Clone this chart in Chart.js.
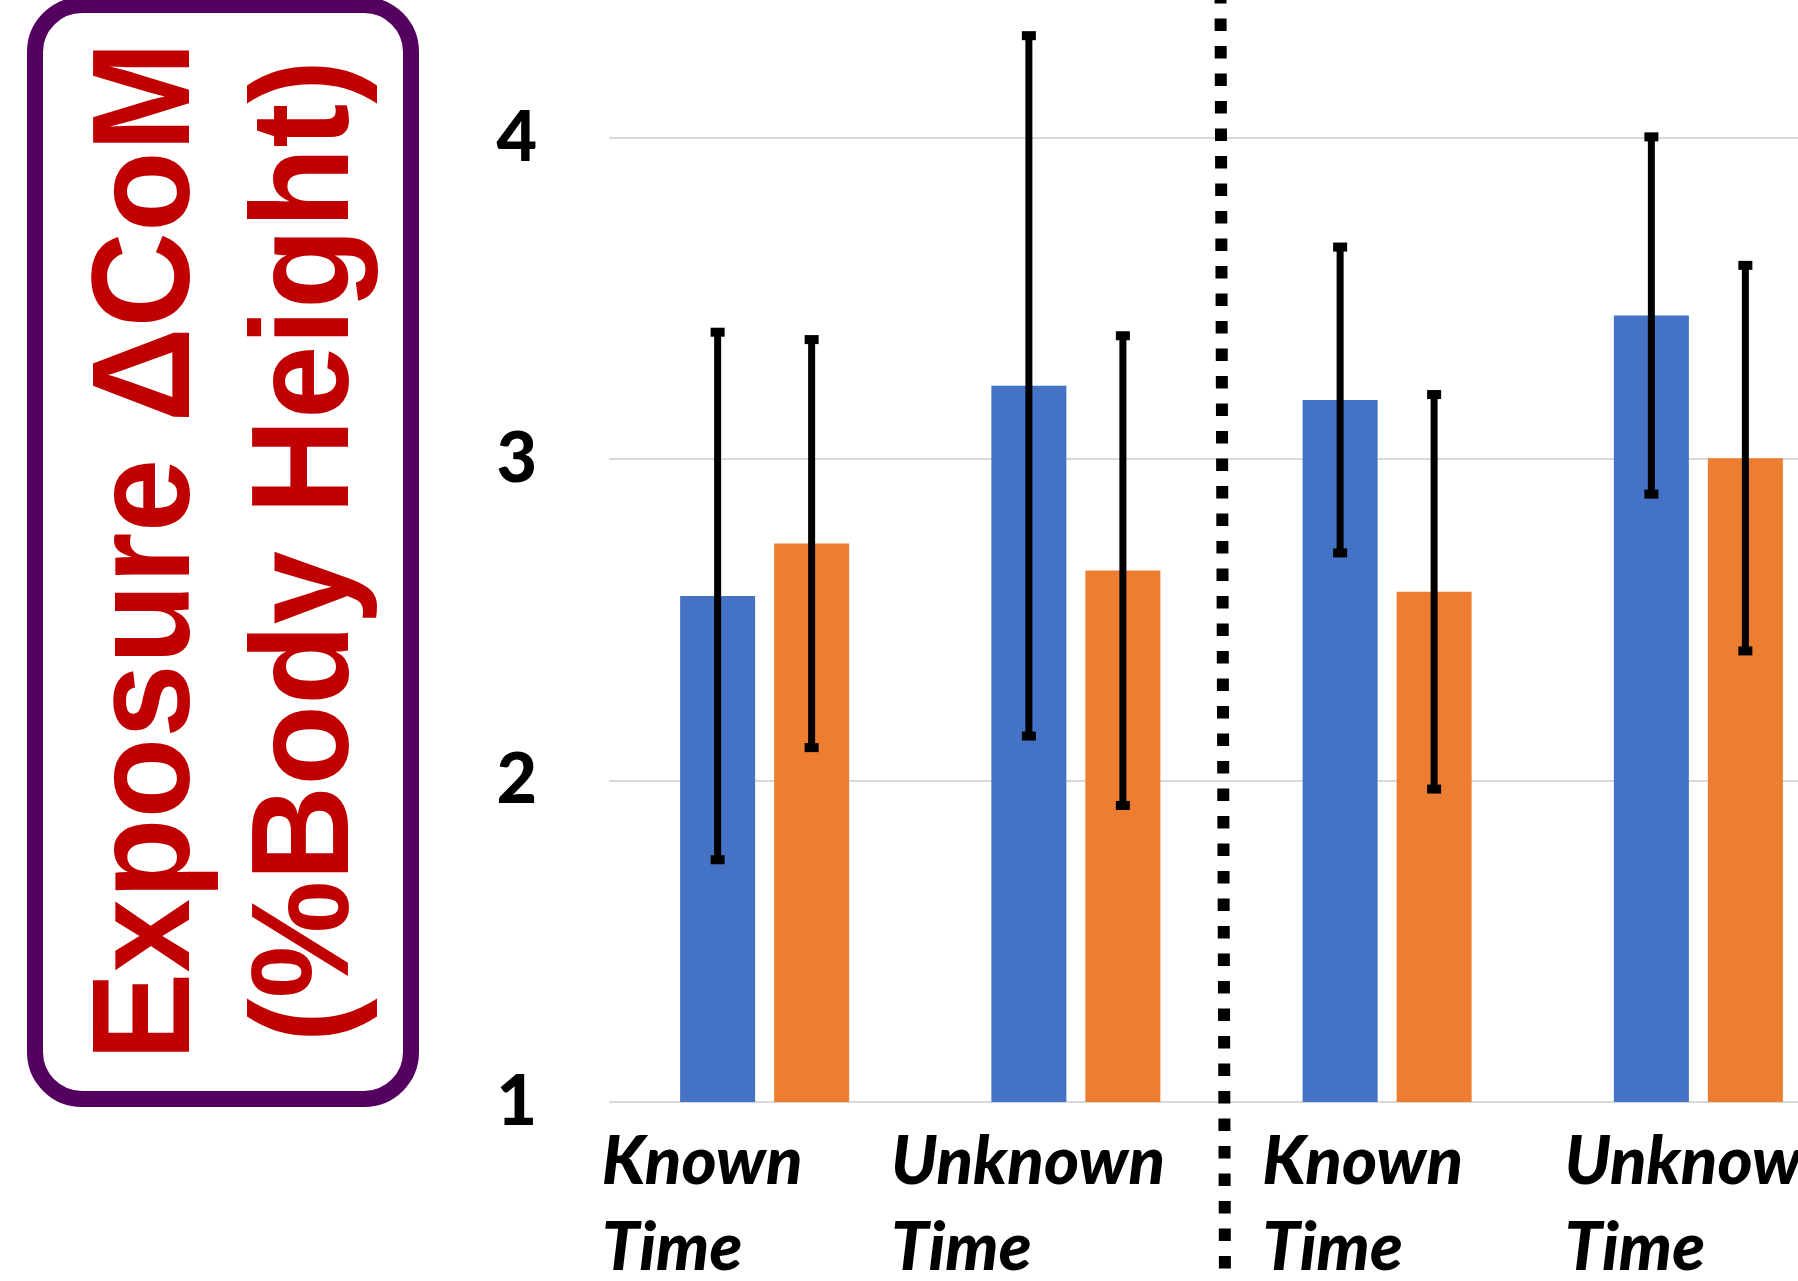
<!DOCTYPE html>
<html>
<head>
<meta charset="utf-8">
<script src="https://cdn.jsdelivr.net/npm/chart.js@4.4.0/dist/chart.umd.min.js"></script>
<style>
  html, body { margin: 0; padding: 0; overflow: hidden; background: #ffffff; width: 1798px; height: 1281px; }
  #wrap { position: relative; width: 1854px; height: 1281px; }
</style>
</head>
<body>
<div id="wrap"><canvas id="chart" width="1854" height="1281"></canvas></div>
<script>
// ---- data ----
const categories = [['Known', 'Time'], ['Unknown', 'Time'], ['Known', 'Time'], ['Unknown', 'Time']];
const blueValues = [2.575, 3.229, 3.185, 3.448];
const blueErrors = [0.821, 1.090, 0.476, 0.556];
const orangeValues = [2.738, 2.654, 2.588, 3.004];
const orangeErrors = [0.635, 0.731, 0.614, 0.600];
const yTickValues = [1, 2, 3, 4];
const yAxisTitle = ['Exposure \u0394CoM', '(%Body Height)'];

// ---- styling / layout ----
const BLUE = '#4472C4';
const ORANGE = '#ED7D31';
const xLabelShift = [-163, -185, -125, -134]; // label left edge relative to category centre

const backgroundPlugin = {
  id: 'bgBox',
  beforeDraw(chart) {
    const ctx = chart.ctx;
    ctx.save();
    ctx.fillStyle = '#ffffff';
    ctx.fillRect(0, 0, chart.width, chart.height);
    ctx.strokeStyle = '#54005F';
    ctx.lineWidth = 16;
    ctx.beginPath();
    ctx.roundRect(35, 5, 376, 1094, 47);
    ctx.stroke();
    ctx.restore();
  }
};

// y-axis title drawn inside the rounded box (vertical, two lines)
const yTitlePlugin = {
  id: 'yTitle',
  afterDraw(chart) {
    const ctx = chart.ctx;
    const area = chart.chartArea;
    const cy = (area.top + area.bottom) / 2;
    ctx.save();
    ctx.fillStyle = '#C00000';
    ctx.font = 'bold 132px "Liberation Sans", Arial, sans-serif';
    ctx.textAlign = 'center';
    ctx.textBaseline = 'alphabetic';
    const baselines = [189, 348];
    yAxisTitle.forEach((t, i) => {
      ctx.save();
      ctx.translate(baselines[i], cy);
      ctx.rotate(-Math.PI / 2);
      ctx.scale(1, 1.05);
      ctx.fillText(t, 0, 0);
      ctx.restore();
    });
    ctx.restore();
  }
};

const errorBarPlugin = {
  id: 'errorBars',
  afterDatasetsDraw(chart) {
    const ctx = chart.ctx;
    const y = chart.scales.y;
    chart.data.datasets.forEach((ds, di) => {
      const meta = chart.getDatasetMeta(di);
      meta.data.forEach((bar, i) => {
        const v = ds.data[i], e = ds.errors[i];
        const yHi = y.getPixelForValue(v + e);
        const yLo = y.getPixelForValue(v - e);
        ctx.save();
        ctx.strokeStyle = '#000';
        ctx.lineWidth = 7;
        ctx.beginPath();
        ctx.moveTo(bar.x, yHi);
        ctx.lineTo(bar.x, yLo);
        ctx.stroke();
        ctx.fillStyle = '#000';
        ctx.fillRect(bar.x - 7, yHi - 4.5, 14, 9);
        ctx.fillRect(bar.x - 7, yLo - 4.5, 14, 9);
        ctx.restore();
      });
    });
  }
};

const separatorPlugin = {
  id: 'separator',
  afterDraw(chart) {
    const x = chart.scales.x;
    const ctx = chart.ctx;
    const mid = (x.getPixelForTick(1) + x.getPixelForTick(2)) / 2;
    ctx.save();
    ctx.strokeStyle = '#000';
    ctx.lineWidth = 12;
    ctx.setLineDash([12.5, 15]);
    ctx.lineCap = 'butt';
    ctx.beginPath();
    ctx.moveTo(mid - 11, -9);
    ctx.lineTo(mid - 6.5, chart.height + 10);
    ctx.stroke();
    ctx.restore();
  }
};

const xLabelPlugin = {
  id: 'xLabels',
  afterDraw(chart) {
    const x = chart.scales.x;
    const ctx = chart.ctx;
    const bottom = chart.chartArea.bottom;
    ctx.save();
    ctx.fillStyle = '#000';
    ctx.font = 'italic 900 67px Lato';
    ctx.textAlign = 'left';
    ctx.textBaseline = 'alphabetic';
    categories.forEach((lines, i) => {
      const px = x.getPixelForTick(i) + xLabelShift[i];
      lines.forEach((t, j) => ctx.fillText(t, px, bottom + 82 + j * 86));
    });
    ctx.restore();
  }
};

new Chart(document.getElementById('chart'), {
  type: 'bar',
  data: {
    labels: categories,
    datasets: [
      { data: blueValues, errors: blueErrors, backgroundColor: BLUE, borderWidth: 0,
        categoryPercentage: 0.604, barPercentage: 0.798 },
      { data: orangeValues, errors: orangeErrors, backgroundColor: ORANGE, borderWidth: 0,
        categoryPercentage: 0.604, barPercentage: 0.798 }
    ]
  },
  options: {
    responsive: false,
    animation: false,
    devicePixelRatio: 1,
    layout: { padding: 0 },
    plugins: { legend: { display: false }, tooltip: { enabled: false } },
    scales: {
      x: {
        grid: { display: false },
        border: { display: false },
        ticks: { display: false },
        afterFit(scale) {
          scale.height = 179;
          scale.paddingLeft = 0; scale.paddingRight = 0;
        }
      },
      y: {
        min: 1,
        max: 4.43,
        bounds: 'data',
        afterBuildTicks(scale) { scale.ticks = yTickValues.map(v => ({ value: v })); },
        grid: { color: '#D9D9D9', lineWidth: 2, drawTicks: false },
        border: { display: false },
        ticks: {
          padding: 72,
          color: '#000',
          font: { family: 'Lato', weight: '900', size: 70 }
        },
        title: { display: false },
        afterFit(scale) {
          scale.width = 609;
          scale.paddingTop = 0; scale.paddingBottom = 0;
        }
      }
    }
  },
  plugins: [backgroundPlugin, errorBarPlugin, separatorPlugin, xLabelPlugin, yTitlePlugin]
});
</script>
</body>
</html>
